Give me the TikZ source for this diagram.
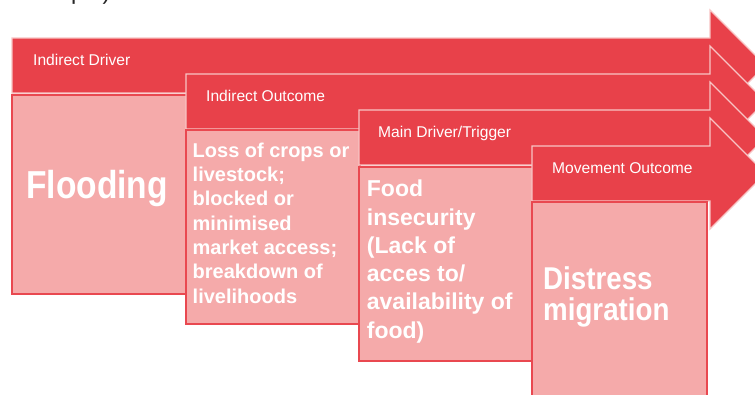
\documentclass[tikz,border=0pt]{standalone}
\usepackage{fontspec}
\setmainfont{Liberation Sans}
\usepackage{graphicx}
\definecolor{arrred}{RGB}{232,65,74}
\definecolor{palered}{RGB}{245,170,170}
\definecolor{edgepink}{RGB}{248,196,196}
\definecolor{boxedge}{RGB}{233,72,80}
\tikzset{
  bigarrow/.style={fill=arrred, draw=edgepink, line width=1.2pt, line join=miter},
  palebox/.style={fill=palered, draw=boxedge, line width=1.4pt},
  lbl/.style={anchor=base west, inner sep=0pt, text=white, font=\fontsize{15.6}{18}\selectfont},
  bodytxt/.style={anchor=base west, inner sep=0pt, text=white, align=left},
}
\begin{document}
\begin{tikzpicture}[x=1pt,y=-1pt]
\useasboundingbox (0,0) rectangle (755,394);
\clip (0,0) rectangle (755,394);
\fill[white] (0,0) rectangle (755,394);

% cropped heading fragment at the top edge
\node[anchor=base west, inner sep=0pt, text=black!85, font=\fontsize{23.5}{28}\selectfont] (frag) at (71,-1) {ple)};

% stage 1
\draw[bigarrow] (12,38) -- (710,38) -- (710,10) -- (765.5,65.5) -- (710,121) -- (710,93) -- (12,93) -- cycle;
\draw[palebox] (12,95) rectangle (187,294);
\node[lbl] (l1) at (33,65) {Indirect Driver};
\node[bodytxt, font=\fontsize{39}{40}\selectfont\bfseries] (t1) at (26,198) {\scalebox{0.86}[1]{Flooding}};

% stage 2
\draw[bigarrow] (186,74) -- (710,74) -- (710,46) -- (765.5,101.5) -- (710,157) -- (710,129) -- (186,129) -- cycle;
\draw[palebox] (186,130) rectangle (360,324);
\node[lbl] (l2) at (206,101) {Indirect Outcome};
\node[bodytxt, font=\fontsize{20}{24.3}\selectfont\bfseries] (t2) at (192.5,157.3)
  {\vtop{\hbox{Loss of crops or}\hbox{livestock;}\hbox{blocked or}\hbox{minimised}\hbox{market access;}\hbox{breakdown of}\hbox{livelihoods}}};

% stage 3
\draw[bigarrow] (359,110) -- (710,110) -- (710,82) -- (765.5,137.5) -- (710,193) -- (710,165) -- (359,165) -- cycle;
\draw[palebox] (359,167) rectangle (533,361);
\node[lbl] (l3) at (378,137) {Main Driver/Trigger};
\node[bodytxt, font=\fontsize{23}{28.3}\selectfont\bfseries] (t3) at (366.7,196.7)
  {\vtop{\hbox{Food}\hbox{insecurity}\hbox{(Lack of}\hbox{acces to/}\hbox{availability of}\hbox{food)}}};

% stage 4
\draw[bigarrow] (532,146) -- (710,146) -- (710,118) -- (765.5,173.5) -- (710,229) -- (710,201) -- (532,201) -- cycle;
\draw[palebox] (532,202) rectangle (707,402);
\node[lbl] (l4) at (552,173) {Movement Outcome};
\node[bodytxt, font=\fontsize{31.5}{31.5}\selectfont\bfseries] (t4) at (543,289.3)
  {\scalebox{0.88}[1]{\vtop{\hbox{Distress}\hbox{migration}}}};
\end{tikzpicture}
\end{document}
